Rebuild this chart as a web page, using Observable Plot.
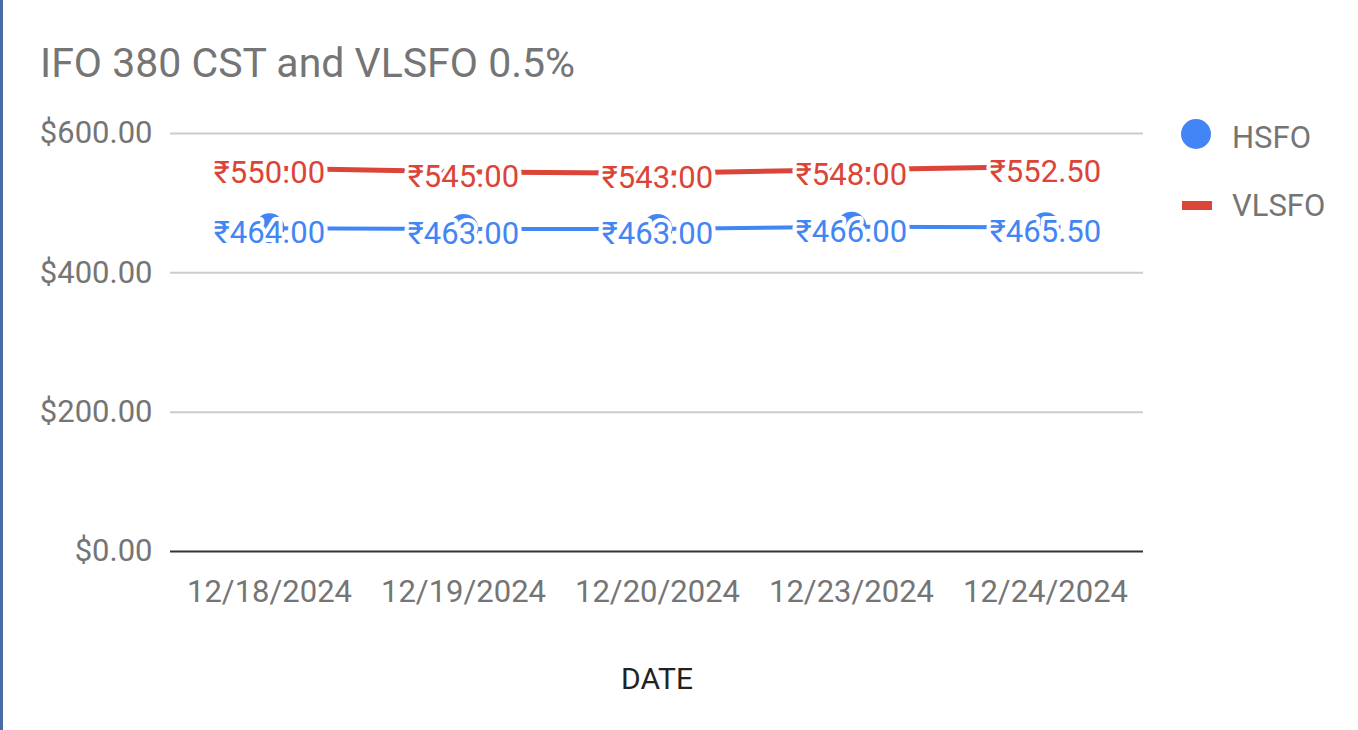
<!DOCTYPE html>
<html>
<head>
<meta charset="utf-8">
<script src="https://cdn.jsdelivr.net/npm/d3@7"></script>
<script src="https://cdn.jsdelivr.net/npm/@observablehq/plot@0.6"></script>
<style>
  html, body { margin: 0; padding: 0; background: #fff; }
  body { width: 1358px; height: 730px; position: relative; overflow: hidden; font-family: Roboto, "Noto Sans", sans-serif; }
  #border { position: absolute; left: 0; top: 0; width: 3px; height: 730px; background: #4d6aa8; }
  #title { position: absolute; left: 40px; top: 39px; font-size: 41px; color: #757575; line-height: 48px; white-space: nowrap; }
  #chart { position: absolute; left: 0; top: 100px; }
  .leg { position: absolute; font-size: 31px; color: #757575; line-height: 36px; }
  .sw-dot { position: absolute; width: 30px; height: 30px; border-radius: 50%; background: #4285F4; }
  .sw-line { position: absolute; width: 30px; height: 9px; background: #DB4437; }
</style>
</head>
<body>
<div id="border"></div>
<div id="title">IFO 380 CST and VLSFO 0.5%</div>
<div id="chart"></div>
<div class="sw-dot" style="left:1181px; top:119px;"></div>
<div class="leg" style="left:1232px; top:120px;">HSFO</div>
<div class="sw-line" style="left:1182px; top:201px;"></div>
<div class="leg" style="left:1232px; top:188px;">VLSFO</div>
<script>
const dates = ["12/18/2024", "12/19/2024", "12/20/2024", "12/23/2024", "12/24/2024"];
const hsfo = [464, 463, 463, 466, 465.5];
const vlsfo = [550, 545, 543, 548, 552.5];
const yTicks = [0, 200, 400, 600];
const xAxisLabel = "DATE";

const blue = "#4285F4", red = "#DB4437";
const hData = dates.map((d, i) => ({date: d, value: hsfo[i]}));
const vData = dates.map((d, i) => ({date: d, value: vlsfo[i]}));
const fmt = v => "₹" + v.toFixed(2);

const chart = Plot.plot({
  width: 1358,
  height: 630,
  marginLeft: 170,
  marginRight: 215,
  marginTop: 33,
  marginBottom: 179,
  style: {fontFamily: "Roboto, 'Noto Sans', sans-serif", background: "transparent"},
  x: {type: "point", domain: dates, padding: 0.5, align: 0.5, axis: null},
  y: {domain: [0, 600], axis: null},
  marks: [
    Plot.gridY(yTicks.filter(t => t > 0), {stroke: "#cccccc", strokeOpacity: 1, strokeWidth: 2}),
    Plot.axisY(yTicks, {tickSize: 0, tickPadding: 18, fontSize: 31, fill: "#757575", tickFormat: d => "$" + d.toFixed(2), label: null}),
    Plot.axisX(dates, {tickSize: 0, tickPadding: 28, fontSize: 31, fill: "#757575", label: null}),
    Plot.ruleY([0], {stroke: "#333333", strokeWidth: 2}),
    Plot.line(vData, {x: "date", y: "value", stroke: red, strokeWidth: 5}),
    Plot.line(hData, {x: "date", y: "value", stroke: blue, strokeWidth: 4}),
    Plot.dot(hData, {x: "date", y: "value", r: 15, fill: blue}),
    Plot.text(vData, {x: "date", y: "value", text: d => fmt(d.value), fill: red, stroke: "white", strokeWidth: 8, paintOrder: "stroke", fontSize: 31, dy: 5}),
    Plot.text(hData, {x: "date", y: "value", text: d => fmt(d.value), fill: blue, stroke: "white", strokeWidth: 8, paintOrder: "stroke", fontSize: 31, dy: 5}),
    Plot.text([xAxisLabel], {frameAnchor: "bottom", text: d => d, dy: 137, fontSize: 30, fill: "#222222"})
  ]
});
document.getElementById("chart").appendChild(chart);
</script>
</body>
</html>
